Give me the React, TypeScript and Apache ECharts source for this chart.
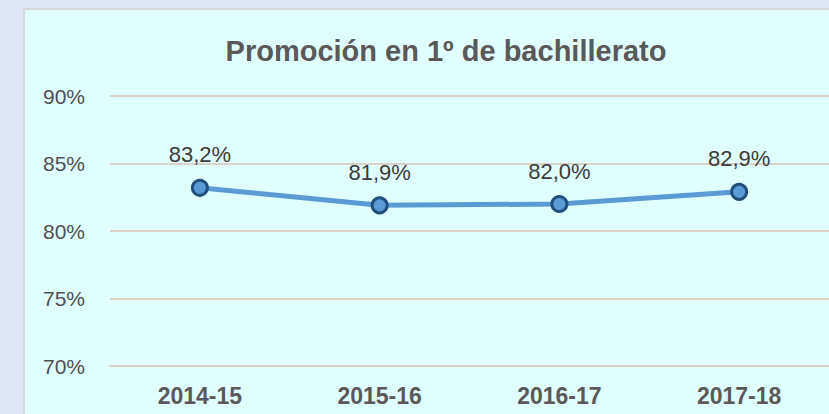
import React, { useEffect, useRef } from "react";
import * as echarts from "echarts";

const categories = ["2014-15", "2015-16", "2016-17", "2017-18"];
const promotion = [83.2, 81.9, 82.0, 82.9];
const yTicks = { min: 70, max: 90, interval: 5 };
const titleText = "Promoción en 1º de bachillerato";

export default function App() {
  const ref = useRef<HTMLDivElement>(null);
  useEffect(() => {
    document.body.style.margin = "0";
    const chart = echarts.init(ref.current!, null, { renderer: "svg" });
    const font = "'Liberation Sans', Arial, sans-serif";
    chart.setOption({
      animation: false,
      backgroundColor: "#dee7f3",
      graphic: [
        {
          type: "rect",
          z: -10,
          silent: true,
          shape: { x: 24, y: 9, width: 830, height: 430 },
          style: { fill: "#e0ffff", stroke: "#d6d9d9", lineWidth: 2 },
        },
      ],
      title: {
        text: titleText,
        left: 441,
        textAlign: "center",
        top: 31,
        textStyle: {
          fontFamily: font,
          fontWeight: "bold",
          fontSize: 29,
          color: "#595959",
        },
      },
      grid: { left: 110, right: -1, top: 96, bottom: 48, containLabel: false },
      xAxis: {
        type: "category",
        data: categories,
        boundaryGap: true,
        axisLine: { show: true, lineStyle: { color: "#d9d2c5", width: 2 } },
        axisTick: { show: false },
        axisLabel: {
          margin: 18,
          fontFamily: font,
          fontWeight: "bold",
          fontSize: 23,
          color: "#595959",
        },
      },
      yAxis: {
        type: "value",
        min: yTicks.min,
        max: yTicks.max,
        interval: yTicks.interval,
        axisLine: { show: false },
        axisTick: { show: false },
        splitLine: { lineStyle: { color: "#d9d2c5", width: 2 } },
        axisLabel: {
          margin: 25,
          fontFamily: font,
          fontSize: 21,
          color: "#4f4f4f",
          formatter: (v: number) => `${v}%`,
        },
      },
      series: [
        {
          type: "line",
          data: promotion,
          symbol: "circle",
          symbolSize: 15,
          lineStyle: { color: "#5b9bd5", width: 5 },
          itemStyle: { color: "#5b9bd5", borderColor: "#1f4f7d", borderWidth: 3 },
          label: {
            show: true,
            position: "top",
            distance: 13,
            fontFamily: font,
            fontSize: 22,
            color: "#3a3a3a",
            formatter: (p: any) => `${p.value.toFixed(1).replace(".", ",")}%`,
          },
        },
      ],
    });
    return () => chart.dispose();
  }, []);
  return <div ref={ref} style={{ width: 829, height: 414 }} />;
}
